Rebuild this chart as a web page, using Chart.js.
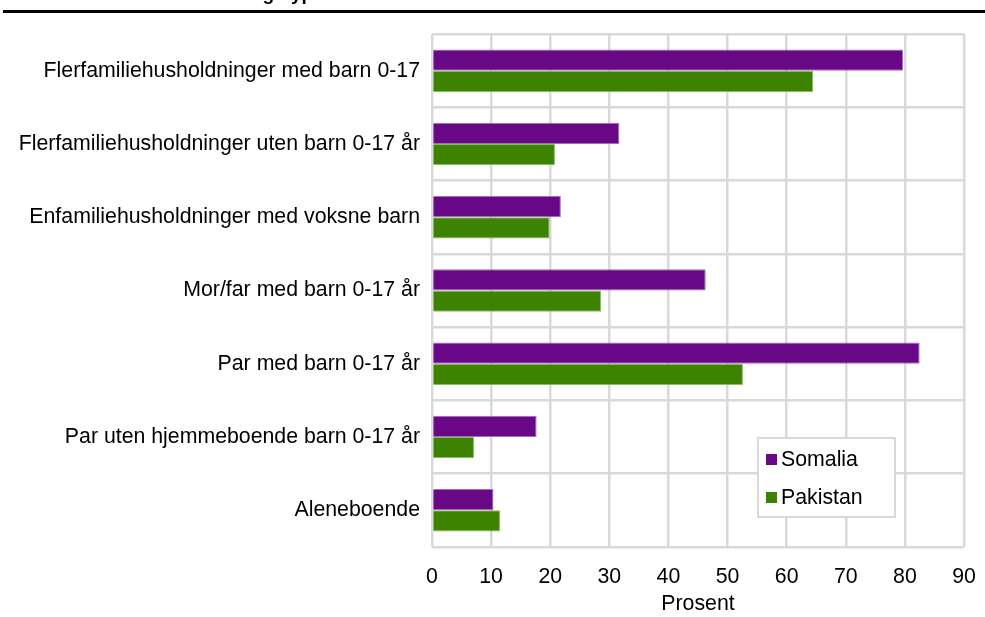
<!DOCTYPE html>
<html>
<head>
<meta charset="utf-8">
<script src="https://cdn.jsdelivr.net/npm/chart.js@4/dist/chart.umd.min.js"></script>
<style>
  html, body { margin: 0; padding: 0; background: #fff; }
  #wrap { width: 985px; height: 617px; position: relative; }
</style>
</head>
<body>
<div id="wrap"><canvas id="chart"></canvas></div>
<script>
const categories = [
    'Flerfamiliehusholdninger med barn 0-17',
    'Flerfamiliehusholdninger uten barn 0-17 år',
    'Enfamiliehusholdninger med voksne barn',
    'Mor/far med barn 0-17 år',
    'Par med barn 0-17 år',
    'Par uten hjemmeboende barn 0-17 år',
    'Aleneboende'
];
const somalia = [79.7, 31.7, 21.8, 46.3, 82.5, 17.7, 10.4];
const pakistan = [64.5, 20.8, 19.9, 28.6, 52.6, 7.1, 11.5];
const seriesNames = ['Somalia', 'Pakistan'];
const xTicks = [0, 10, 20, 30, 40, 50, 60, 70, 80, 90];

const FONT = 'Arial, "Liberation Sans", sans-serif';
const FONT_SIZE = 21.3;
const gridColor = '#d9d9d9';

// header rule and the clipped heading above it
const headerPlugin = {
    id: 'header',
    afterDraw (chart) {
        const ctx = chart.ctx;
        ctx.save();
        ctx.fillStyle = '#000';
        ctx.font = 'bold 19px ' + FONT;
        ctx.textBaseline = 'alphabetic';
        ctx.fillText('Husholdningstype', 158, 0);
        ctx.fillRect(3, 10, 982, 3);
        ctx.restore();
    }
};

// boxed legend sitting inside the plot area
const boxLegend = {
    id: 'boxLegend',
    afterDraw (chart) {
        const ctx = chart.ctx;
        const x = 758, y = 438, w = 137, h = 79;
        ctx.save();
        ctx.fillStyle = '#fff';
        ctx.fillRect(x, y, w, h);
        ctx.strokeStyle = gridColor;
        ctx.lineWidth = 2;
        ctx.strokeRect(x, y, w, h);
        ctx.font = FONT_SIZE + 'px ' + FONT;
        ctx.textBaseline = 'middle';
        chart.data.datasets.forEach((ds, i) => {
            const cy = y + 21 + i * 38;
            ctx.fillStyle = ds.backgroundColor;
            ctx.fillRect(x + 8, cy - 5, 11, 11);
            ctx.fillStyle = '#000';
            ctx.fillText(ds.label, x + 23, cy + 1);
        });
        ctx.restore();
    }
};

new Chart(document.getElementById('chart'), {
    type: 'bar',
    data: {
        labels: categories,
        datasets: [
            {
                label: seriesNames[0],
                data: somalia,
                backgroundColor: '#690887',
                borderColor: '#a66bc0',
                borderWidth: 1
            },
            {
                label: seriesNames[1],
                data: pakistan,
                backgroundColor: '#3e8201',
                borderColor: '#85bd62',
                borderWidth: 1
            }
        ]
    },
    options: {
        indexAxis: 'y',
        responsive: true,
        maintainAspectRatio: false,
        animation: false,
        categoryPercentage: 0.58,
        barPercentage: 1.0,
        layout: {
            padding: { top: 34, right: 21, left: 0, bottom: 0 }
        },
        plugins: {
            legend: { display: false },
            tooltip: { enabled: false }
        },
        scales: {
            x: {
                min: 0,
                max: 90,
                afterBuildTicks: (scale) => {
                    scale.ticks = xTicks.map(v => ({ value: v }));
                },
                afterFit: (scale) => {
                    scale.height = 70;
                    scale.paddingLeft = 0;
                    scale.paddingRight = 0;
                },
                grid: {
                    color: gridColor,
                    lineWidth: 2.5,
                    drawTicks: false
                },
                border: { display: false },
                ticks: {
                    color: '#000',
                    padding: 17,
                    font: { family: FONT, size: FONT_SIZE }
                },
                title: {
                    display: true,
                    text: 'Prosent',
                    color: '#000',
                    padding: { top: 3, bottom: 0 },
                    font: { family: FONT, size: FONT_SIZE }
                }
            },
            y: {
                afterFit: (scale) => { scale.width = 432; },
                grid: {
                    color: gridColor,
                    lineWidth: 2.5,
                    offset: true,
                    drawTicks: false
                },
                border: { display: false },
                ticks: {
                    color: '#000',
                    padding: 12,
                    font: { family: FONT, size: FONT_SIZE }
                }
            }
        }
    },
    plugins: [headerPlugin, boxLegend]
});
</script>
</body>
</html>
